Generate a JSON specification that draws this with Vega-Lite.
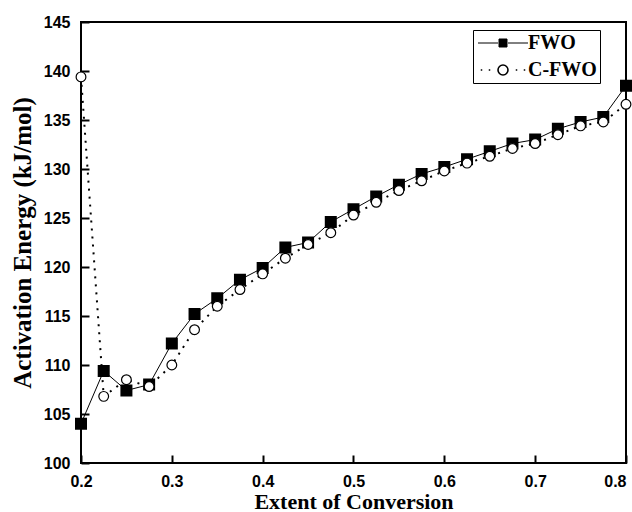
{
  "$schema": "https://vega.github.io/schema/vega-lite/v6.json",
  "width": 545,
  "height": 441,
  "autosize": {"type": "none"},
  "padding": {"left": 81, "top": 22, "right": 6, "bottom": 49},
  "background": "white",
  "config": {
    "view": {"stroke": "black", "strokeWidth": 2},
    "axis": {
      "grid": false,
      "domain": false,
      "ticks": true,
      "tickColor": "black",
      "tickOpacity": 1,
      "tickWidth": 2,
      "tickSize": 8,
      "offset": -8,
      "labelFlush": false,
      "labelFont": "Liberation Sans",
      "labelFontWeight": "bold",
      "labelFontSize": 16,
      "labelColor": "black",
      "titleFont": "Liberation Serif",
      "titleFontWeight": "bold",
      "titleFontSize": 22,
      "titleColor": "black"
    }
  },
  "datasets": {
    "energy": [
      {"x": 0.2, "series": "FWO", "E": 104.0},
      {"x": 0.225, "series": "FWO", "E": 109.4},
      {"x": 0.25, "series": "FWO", "E": 107.4},
      {"x": 0.275, "series": "FWO", "E": 108.0},
      {"x": 0.3, "series": "FWO", "E": 112.2},
      {"x": 0.325, "series": "FWO", "E": 115.2},
      {"x": 0.35, "series": "FWO", "E": 116.8},
      {"x": 0.375, "series": "FWO", "E": 118.7},
      {"x": 0.4, "series": "FWO", "E": 119.9},
      {"x": 0.425, "series": "FWO", "E": 122.0},
      {"x": 0.45, "series": "FWO", "E": 122.5},
      {"x": 0.475, "series": "FWO", "E": 124.6},
      {"x": 0.5, "series": "FWO", "E": 125.9},
      {"x": 0.525, "series": "FWO", "E": 127.2},
      {"x": 0.55, "series": "FWO", "E": 128.4},
      {"x": 0.575, "series": "FWO", "E": 129.5},
      {"x": 0.6, "series": "FWO", "E": 130.2},
      {"x": 0.625, "series": "FWO", "E": 131.0},
      {"x": 0.65, "series": "FWO", "E": 131.8},
      {"x": 0.675, "series": "FWO", "E": 132.6},
      {"x": 0.7, "series": "FWO", "E": 133.0},
      {"x": 0.725, "series": "FWO", "E": 134.1},
      {"x": 0.75, "series": "FWO", "E": 134.8},
      {"x": 0.775, "series": "FWO", "E": 135.3},
      {"x": 0.8, "series": "FWO", "E": 138.5},
      {"x": 0.2, "series": "C-FWO", "E": 139.4},
      {"x": 0.225, "series": "C-FWO", "E": 106.8},
      {"x": 0.25, "series": "C-FWO", "E": 108.5},
      {"x": 0.275, "series": "C-FWO", "E": 107.8},
      {"x": 0.3, "series": "C-FWO", "E": 110.0},
      {"x": 0.325, "series": "C-FWO", "E": 113.6},
      {"x": 0.35, "series": "C-FWO", "E": 116.0},
      {"x": 0.375, "series": "C-FWO", "E": 117.7},
      {"x": 0.4, "series": "C-FWO", "E": 119.3},
      {"x": 0.425, "series": "C-FWO", "E": 120.9},
      {"x": 0.45, "series": "C-FWO", "E": 122.3},
      {"x": 0.475, "series": "C-FWO", "E": 123.5},
      {"x": 0.5, "series": "C-FWO", "E": 125.3},
      {"x": 0.525, "series": "C-FWO", "E": 126.6},
      {"x": 0.55, "series": "C-FWO", "E": 127.8},
      {"x": 0.575, "series": "C-FWO", "E": 128.8},
      {"x": 0.6, "series": "C-FWO", "E": 129.8},
      {"x": 0.625, "series": "C-FWO", "E": 130.6},
      {"x": 0.65, "series": "C-FWO", "E": 131.3},
      {"x": 0.675, "series": "C-FWO", "E": 132.1},
      {"x": 0.7, "series": "C-FWO", "E": 132.6},
      {"x": 0.725, "series": "C-FWO", "E": 133.5},
      {"x": 0.75, "series": "C-FWO", "E": 134.4},
      {"x": 0.775, "series": "C-FWO", "E": 134.8},
      {"x": 0.8, "series": "C-FWO", "E": 136.6}
    ],
    "yticks": [
      {"tick": 105}, {"tick": 110}, {"tick": 115}, {"tick": 120},
      {"tick": 125}, {"tick": 130}, {"tick": 135}, {"tick": 140}
    ],
    "xticks": [
      {"tick": 0.3}, {"tick": 0.4}, {"tick": 0.5}, {"tick": 0.6}, {"tick": 0.7}
    ]
  },
  "data": {"name": "energy"},
  "encoding": {
    "x": {
      "field": "x",
      "type": "quantitative",
      "scale": {"domain": [0.2, 0.8], "nice": false, "zero": false},
      "axis": {
        "values": [0.2, 0.3, 0.4, 0.5, 0.6, 0.7, 0.8],
        "format": ".1f",
        "title": "Extent of Conversion",
        "labelPadding": 10,
        "labelAlign": {"expr": "datum.value > 0.75 ? 'right' : 'center'"},
        "labelDx": {"expr": "datum.value > 0.75 ? 5 : 0"},
        "titlePadding": 2
      }
    },
    "y": {
      "field": "E",
      "type": "quantitative",
      "scale": {"domain": [100, 145], "nice": false, "zero": false},
      "axis": {
        "values": [100, 105, 110, 115, 120, 125, 130, 135, 140, 145],
        "title": "Activation Energy (kJ/mol)",
        "titleFontSize": 25,
        "labelPadding": 11,
        "titlePadding": 8
      }
    }
  },
  "layer": [
    {
      "data": {"name": "yticks"},
      "mark": {"type": "rule", "strokeWidth": 2, "color": "black", "opacity": 1},
      "encoding": {
        "y": {"field": "tick", "type": "quantitative"},
        "x": {"datum": 0.2},
        "x2": {"datum": 0.209}
      }
    },
    {
      "data": {"name": "xticks"},
      "mark": {"type": "rule", "strokeWidth": 2, "color": "black", "opacity": 1},
      "encoding": {
        "x": {"field": "tick", "type": "quantitative"},
        "y": {"datum": 100},
        "y2": {"datum": 100.82}
      }
    },
    {
      "transform": [{"filter": "datum.series === 'FWO'"}],
      "mark": {"type": "line", "strokeWidth": 1, "stroke": "black"},
      "encoding": {
        "color": {
          "field": "series",
          "type": "nominal",
          "scale": {"domain": ["FWO", "C-FWO"], "range": ["black", "black"]},
          "legend": {
            "orient": "none",
            "legendX": 392,
            "legendY": 8,
            "title": null,
            "padding": 3,
            "rowPadding": 7,
            "strokeColor": "black",
            "fillColor": "white",
            "labelFont": "Liberation Serif",
            "labelFontWeight": "bold",
            "labelFontSize": 20,
            "labelColor": "black",
            "symbolSize": 100,
            "symbolOffset": 17,
            "labelOffset": 15,
            "encode": {
              "symbols": {
                "update": {
                  "shape": {"signal": "datum.value === 'FWO' ? 'M-5,0H-1M1,0H5M-0.8,-0.8H0.8V0.8H-0.8Z' : 'M-4.45,0H-4.15M-2.85,0H-2.55M-1,0A1,1,0,1,0,1,0A1,1,0,1,0,-1,0ZM2.55,0H2.85M4.15,0H4.45'"},
                  "fill": {"signal": "datum.value === 'FWO' ? 'black' : 'white'"},
                  "stroke": {"value": "black"},
                  "strokeDash": {"value": []},
                  "strokeWidth": {"signal": "datum.value === 'FWO' ? 1 : 1.6"},
                  "opacity": {"value": 1},
                  "fillOpacity": {"value": 1}
                }
              }
            }
          }
        }
      }
    },
    {
      "transform": [{"filter": "datum.series === 'C-FWO'"}],
      "mark": {"type": "line", "strokeWidth": 2, "stroke": "black", "strokeDash": [2, 6]},
      "encoding": {}
    },
    {
      "transform": [{"filter": "datum.series === 'FWO'"}],
      "mark": {"type": "point", "shape": "square", "filled": true, "fill": "black", "stroke": "black", "size": 100, "opacity": 1},
      "encoding": {}
    },
    {
      "transform": [{"filter": "datum.series === 'C-FWO'"}],
      "mark": {"type": "point", "shape": "circle", "filled": true, "fill": "white", "stroke": "black", "strokeWidth": 1.2, "size": 95, "opacity": 1, "fillOpacity": 1},
      "encoding": {}
    },
    {
      "data": {"values": [{"label": "POM-hybrid"}]},
      "mark": {"type": "text", "text": "POM-hybrid (", "font": "Liberation Serif", "fontSize": 21.5, "align": "left", "baseline": "alphabetic", "color": "black"},
      "encoding": {"x": {"datum": 0.232}, "y": {"datum": 141}}
    },
    {
      "data": {"values": [{"label": "1"}]},
      "mark": {"type": "text", "text": "1", "font": "Liberation Serif", "fontWeight": "bold", "fontSize": 21.5, "align": "left", "baseline": "alphabetic", "color": "black", "dx": 122.4},
      "encoding": {"x": {"datum": 0.232}, "y": {"datum": 141}}
    },
    {
      "data": {"values": [{"label": ")"}]},
      "mark": {"type": "text", "text": ")", "font": "Liberation Serif", "fontSize": 21.5, "align": "left", "baseline": "alphabetic", "color": "black", "dx": 133.2},
      "encoding": {"x": {"datum": 0.232}, "y": {"datum": 141}}
    }
  ]
}
